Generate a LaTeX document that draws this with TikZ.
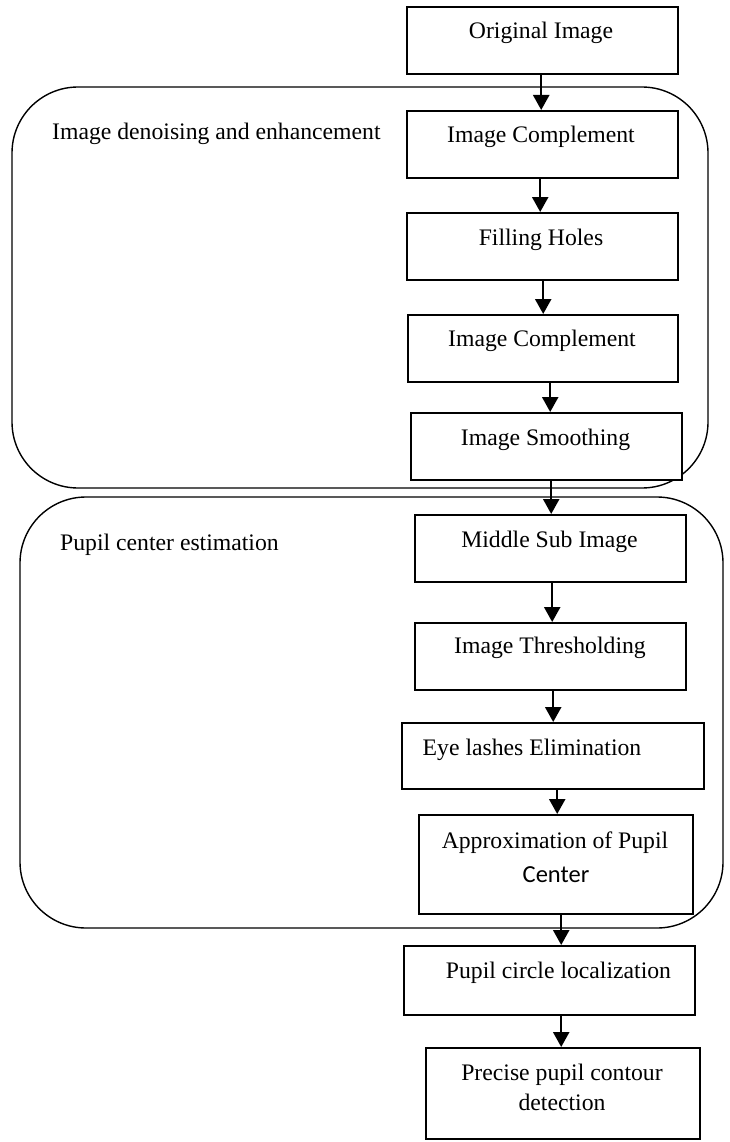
\documentclass[tikz,border=0pt]{standalone}
\usepackage{fontspec}
\setmainfont{Liberation Serif}
\newfontfamily\calfont{Carlito}
\usetikzlibrary{arrows.meta}
\begin{document}
\begin{tikzpicture}[x=1pt,y=-1pt,
  box/.style={draw, line width=2.4pt, fill=white, inner sep=0pt, anchor=north west},
  group/.style={draw, line width=1.4pt, rounded corners=66pt},
  arr/.style={-{Triangle[width=16pt,length=15pt]}, line width=2.4pt},
  lbl/.style={anchor=base, inner sep=0pt, font=\fontsize{23.7}{28}\selectfont},
  glbl/.style={anchor=base west, inner sep=0pt, font=\fontsize{23.7}{28}\selectfont}]
\useasboundingbox (0,0) rectangle (729,1142);
% groups
\draw[group] (12,87) rectangle (708,488);
\draw[group] (20,497) rectangle (723,928);
\node[glbl] (g1) at (52,140) {Image denoising and enhancement};
\node[glbl] (g2) at (60,550) {Pupil center estimation};
% boxes
\node[box, minimum width=271pt, minimum height=67pt] (b1) at (406,6) {};
\node[box, minimum width=271pt, minimum height=67pt] (b2) at (406,110) {};
\node[box, minimum width=271pt, minimum height=67pt] (b3) at (406,212) {};
\node[box, minimum width=270pt, minimum height=67pt] (b4) at (407,314) {};
\node[box, minimum width=271pt, minimum height=67pt] (b5) at (410,412) {};
\node[box, minimum width=271pt, minimum height=67pt] (b6) at (414,514) {};
\node[box, minimum width=271pt, minimum height=67pt] (b7) at (414,622) {};
\node[box, minimum width=302pt, minimum height=66pt] (b8) at (401,722) {};
\node[box, minimum width=274pt, minimum height=99pt] (b9) at (418,814) {};
\node[box, minimum width=291pt, minimum height=69pt] (b10) at (403,945) {};
\node[box, minimum width=274pt, minimum height=91pt] (b11) at (425,1047) {};
% texts
\node[lbl] (t1) at (541,39) {Original Image};
\node[lbl] (t2) at (541,143) {Image Complement};
\node[lbl] (t3) at (541,245) {Filling Holes};
\node[lbl] (t4) at (542,346) {Image Complement};
\node[lbl] (t5) at (545.5,445) {Image Smoothing};
\node[lbl] (t6) at (549.5,547) {Middle Sub Image};
\node[lbl] (t7) at (550,653) {Image Thresholding};
\node[lbl] (t8) at (532,755) {Eye lashes Elimination};
\node[lbl] (t9a) at (555,848) {Approximation of Pupil};
\node[lbl, font=\fontsize{24.5}{28}\calfont] (t9b) at (556,882) {Center};
\node[lbl] (t10) at (558.5,978) {Pupil circle localization};
\node[lbl] (t11a) at (562,1080) {Precise pupil contour};
\node[lbl] (t11b) at (562,1110) {detection};
% arrows
\draw[arr] ([xshift=-1.5pt]b1.south) -- ([xshift=-1.5pt]b2.north);
\draw[arr] ([xshift=-2.5pt]b2.south) -- ([xshift=-2.5pt]b3.north);
\draw[arr] ([xshift=0.5pt]b3.south) -- ([xshift=0pt]b4.north);
\draw[arr] ([xshift=7pt]b4.south) -- ([xshift=3.5pt]b5.north);
\draw[arr] ([xshift=4.5pt]b5.south) -- ([xshift=0.5pt]b6.north);
\draw[arr] ([xshift=1.5pt]b6.south) -- ([xshift=1.5pt]b7.north);
\draw[arr] ([xshift=2.5pt]b7.south) -- ([xshift=0pt]b8.north);
\draw[arr] ([xshift=4pt]b8.south) -- ([xshift=1pt]b9.north);
\draw[arr] ([xshift=5pt]b9.south) -- ([xshift=11.5pt]b10.north);
\draw[arr] ([xshift=11.5pt]b10.south) -- ([xshift=-2pt]b11.north);
\end{tikzpicture}
\end{document}
